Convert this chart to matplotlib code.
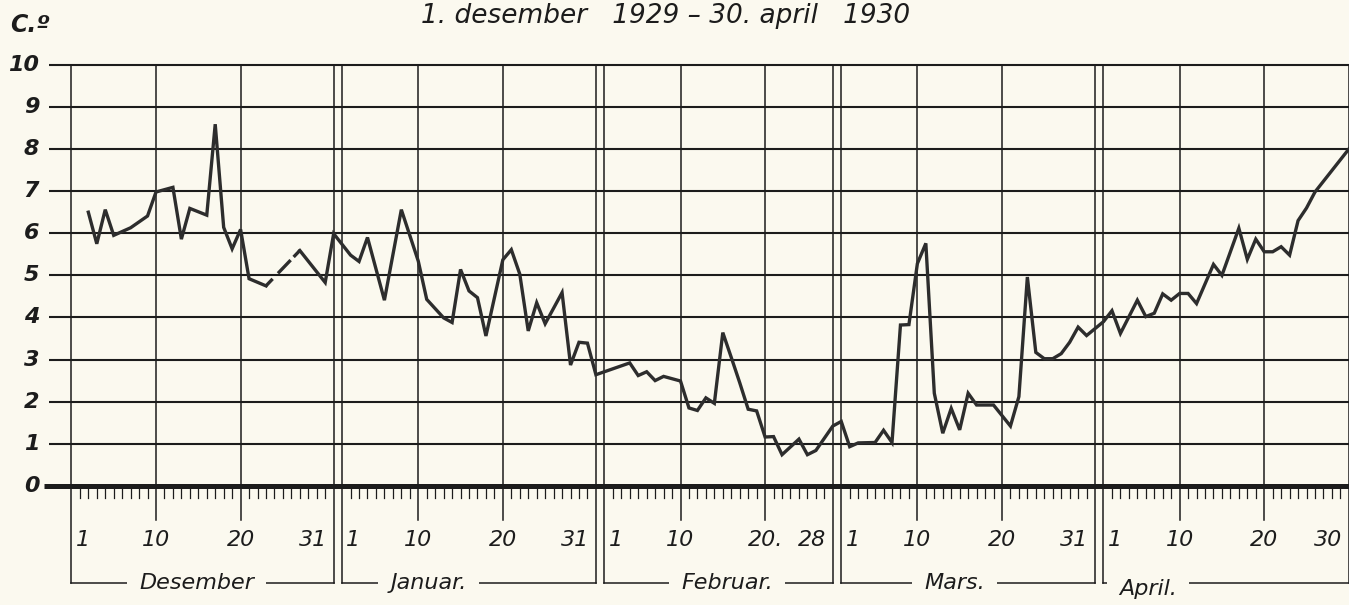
import matplotlib
matplotlib.use('Agg')
import matplotlib.pyplot as plt

# Daily air temperature, 1 Dec 1929 - 30 Apr 1930 (day 1 = 1 December)
days_before_gap = [2, 3, 4, 5, 7, 9, 10, 12, 13, 14, 16, 17, 18, 19, 20, 21, 23]
temps_before_gap = [6.50, 5.75, 6.56, 5.95, 6.13, 6.41, 6.98, 7.09, 5.86, 6.59,
                    6.43, 8.59, 6.14, 5.63, 6.09, 4.92, 4.75]

days_after_gap = [27, 30, 31, 33, 34, 35, 37, 39, 41, 42,
                  44, 45, 46, 47, 48, 49, 51, 52, 53, 54,
                  55, 56, 58, 59, 60, 61, 62, 66, 67, 68,
                  69, 70, 72, 73, 74, 75, 76, 77, 78, 79,
                  80, 81, 82, 83, 84, 86, 87, 88, 90, 91,
                  92, 93, 95, 96, 97, 98, 99, 100, 101, 102,
                  103, 104, 105, 106, 107, 109, 111, 112, 113, 114,
                  115, 116, 117, 118, 119, 120, 122, 123, 124, 126,
                  127, 128, 129, 130, 131, 132, 133, 135, 136, 138,
                  139, 140, 141, 142, 143, 144, 145, 146, 147, 151]
temps_after_gap = [5.59, 4.83, 5.99, 5.48, 5.33, 5.90, 4.41, 6.56, 5.34, 4.43,
                   3.99, 3.88, 5.14, 4.63, 4.47, 3.56, 5.37, 5.61, 5.03, 3.68,
                   4.35, 3.85, 4.59, 2.87, 3.41, 3.39, 2.64, 2.92, 2.62, 2.71,
                   2.50, 2.60, 2.49, 1.85, 1.79, 2.09, 1.96, 3.64, 3.05, 2.45,
                   1.82, 1.78, 1.16, 1.17, 0.74, 1.11, 0.74, 0.84, 1.42, 1.53,
                   0.93, 1.02, 1.03, 1.32, 1.03, 3.82, 3.83, 5.28, 5.76, 2.20,
                   1.25, 1.84, 1.33, 2.20, 1.92, 1.92, 1.42, 2.12, 4.96, 3.17,
                   3.02, 3.02, 3.14, 3.41, 3.77, 3.57, 3.90, 4.16, 3.62, 4.41,
                   4.02, 4.10, 4.56, 4.41, 4.57, 4.57, 4.33, 5.26, 5.00, 6.12,
                   5.38, 5.86, 5.56, 5.56, 5.68, 5.48, 6.30, 6.60, 6.98, 8.00]

month_names = ['Desember', 'Januar.', 'Februar.', 'Mars.', 'April.']
month_lengths = [31, 31, 28, 31, 30]
day_labels = [
    ['1', '10', '20', '31'],
    ['1', '10', '20', '31'],
    ['1', '10', '20.', '28'],
    ['1', '10', '20', '31'],
    ['1', '10', '20', '30'],
]
y_values = list(range(0, 11))

title = '1. desember   1929 \u2013 30. april   1930'
unit_label = 'C.\u00ba'

# layout
BG = '#fbf9ef'
INK = '#1c1c1c'
LINE = '#2d2d2d'
month_label_x = [14.8, 42.2, 77.5, 104.4, 127.3]
month_label_y = [-2.3, -2.3, -2.3, -2.3, -2.45]


def draw_grid(ax, starts, ends):
    for v in y_values[1:]:
        ax.plot([-2.7, 151.5], [v, v], color=INK, lw=1.5, zorder=1,
                solid_capstyle='butt')
    ax.plot([-3.2, 151.5], [0, 0], color=INK, lw=3.6, zorder=2,
            solid_capstyle='butt')

    majors = set()
    for i, (s, e) in enumerate(zip(starts, ends)):
        start_line = s if i else s - 1
        for x in (start_line, e):
            ax.plot([x, x], [10, -2.3], color=INK, lw=1.1, zorder=1)
            majors.add(x)
        for d in (10, 20):
            x = s + d - 1
            ax.plot([x, x], [10, -0.8], color=INK, lw=1.1, zorder=1)
            majors.add(x)
        # month bracket
        ax.plot([start_line, e], [-2.3, -2.3], color=INK, lw=1.1, zorder=1)

    for d in range(1, 151):
        if d in majors:
            continue
        ax.plot([d, d], [0, -0.3], color=INK, lw=0.9, zorder=1)


def main():
    fig = plt.figure(figsize=(13.49, 6.05), dpi=100, facecolor=BG)
    ax = fig.add_axes([0, 0, 1, 1])
    ax.set_facecolor(BG)
    ax.set_xlim(-8.44, 151.02)
    ax.set_ylim(-2.83, 11.54)
    ax.axis('off')

    starts, ends = [], []
    first = 1
    for n in month_lengths:
        starts.append(first)
        ends.append(first + n - 1)
        first += n

    draw_grid(ax, starts, ends)

    # temperature curve, with the dashed stretch over the missing days
    ax.plot(days_before_gap, temps_before_gap, color=LINE, lw=2.4,
            zorder=4, solid_joinstyle='miter')
    ax.plot(days_after_gap, temps_after_gap, color=LINE, lw=2.4,
            zorder=4, solid_joinstyle='miter')
    ax.plot([days_before_gap[-1], days_after_gap[0]],
            [temps_before_gap[-1], temps_after_gap[0]],
            color=LINE, lw=2.4, zorder=4,
            linestyle=(0, (2.9, 2.3, 5.5, 1.3, 10, 0.1)))

    font = dict(family='DejaVu Sans', style='italic', color=INK)

    for v in y_values:
        ax.text(-3.8, v, str(v), ha='right', va='center', fontsize=16,
                weight='bold', **font)

    ax.text(-7.2, 10.95, unit_label, ha='left', va='center', fontsize=17,
            weight='bold', **font)
    ax.text(70.2, 11.0, title, ha='center', va='baseline', fontsize=19,
            **font)

    for i, name in enumerate(month_names):
        ax.text(month_label_x[i], month_label_y[i], name, ha='center',
                va='center', fontsize=16, zorder=3,
                bbox=dict(boxstyle='square,pad=0.55', fc=BG, ec='none'),
                **font)

    for i, labels in enumerate(day_labels):
        s, e = starts[i], ends[i]
        start_line = s if i else s - 1
        ax.text(start_line + 0.5, -1.28, labels[0], ha='left', va='center',
                fontsize=16, zorder=5, **font)
        ax.text(s + 9, -1.28, labels[1], ha='center', va='center',
                fontsize=16, zorder=5, **font)
        ax.text(s + 19, -1.28, labels[2], ha='center', va='center',
                fontsize=16, zorder=5, **font)
        ax.text(e - 0.8, -1.28, labels[3], ha='right', va='center',
                fontsize=16, zorder=5, **font)

    fig.savefig('out.png', dpi=100, facecolor=BG)
    plt.close(fig)


if __name__ == '__main__':
    main()
